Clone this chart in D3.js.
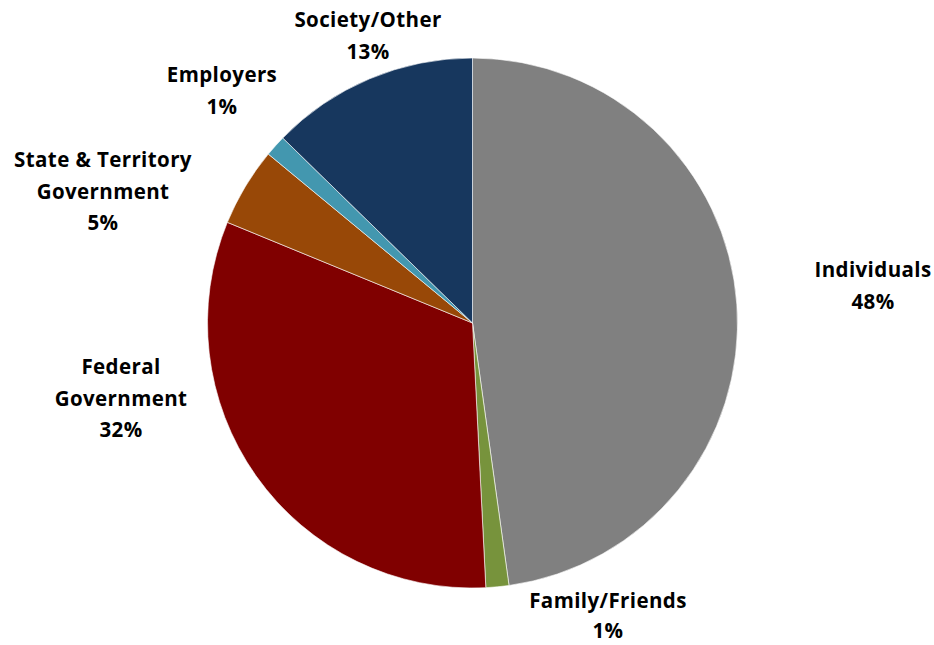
<!DOCTYPE html>
<html><head><meta charset="utf-8">
<script src="https://cdn.jsdelivr.net/npm/d3@7"></script>
<style>body{margin:0;background:#fff}svg{display:block}</style>
</head><body>
<script>
const categories = ["Individuals","Family/Friends","Federal Government","State & Territory Government","Employers","Society/Other"];
const values = [47.8, 1.4, 32.0, 4.8, 1.3, 12.7];
const pctLabels = ["48%","1%","32%","5%","1%","13%"];
const labelLines = [["Individuals"],["Family/Friends"],["Federal","Government"],["State & Territory","Government"],["Employers"],["Society/Other"]];
const colors = ["#808080","#77933C","#800000","#984807","#4397AF","#17375E"];

// layout (label centers of first line)
const labelPos = [[873,270],[608,601],[121,367],[103,160],[222,75],[368,20]];

const W=934,H=645,cx=472.5,cy=323,R=265;
const svg=d3.select("body").append("svg").attr("width",W).attr("height",H);
const g=svg.append("g").attr("transform",`translate(${cx},${cy})`);
const pie=d3.pie().sort(null).value(d=>d)(values);
const arc=d3.arc().innerRadius(0).outerRadius(R);
g.selectAll("path").data(pie).join("path").attr("d",arc)
  .attr("fill",(d,i)=>colors[i]).attr("stroke","#fff").attr("stroke-width",0.6);

categories.forEach((c,i)=>{
  const lines=labelLines[i].concat([pctLabels[i]]);
  const lh = i===1 ? 30 : 31.5;
  const t=svg.append("text").attr("text-anchor","middle")
    .attr("font-family","'Open Sans', sans-serif").attr("font-weight","bold")
    .attr("font-size",20.5).attr("letter-spacing","0.4px").attr("fill","#000");
  lines.forEach((l,k)=>{
    t.append("tspan").attr("x",labelPos[i][0]).attr("y",labelPos[i][1]+k*lh).attr("dy","0.35em").text(l);
  });
});
</script>
</body></html>
